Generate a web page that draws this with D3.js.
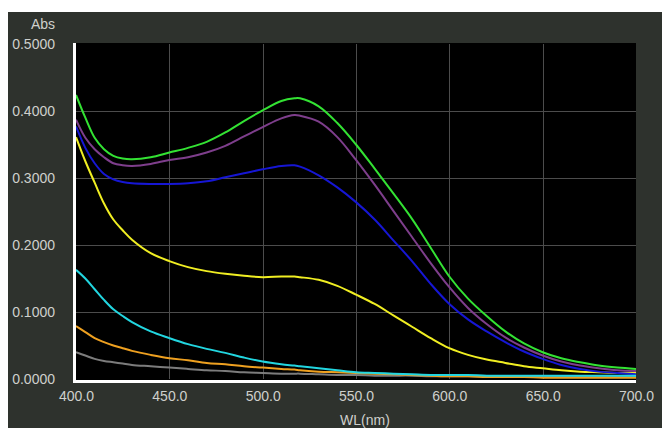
<!DOCTYPE html>
<html>
<head>
  <script src="https://d3js.org/d3.v7.min.js"></script>
  <meta charset="utf-8">
  <title>Abs spectrum</title>
<style>
body {
  margin: 0;
  background: #fff;
}
text {
  font-family: "Liberation Sans", Arial, sans-serif;
  font-size: 14px;
  fill: #cfd0cc;
}
</style>
</head>
<body>
<script>
var width = 662;
var height = 428;

// wavelengths (nm)
var wl = [400, 405, 410, 415, 420, 425, 430, 440, 450, 460, 470, 480, 490, 500, 510, 517, 520,
  530, 540, 550, 560, 570, 580, 590, 600, 610, 620, 630, 640, 650, 660, 670, 680, 690, 700];

var green = [0.424, 0.390, 0.360, 0.343, 0.333, 0.329, 0.328, 0.331, 0.338, 0.345, 0.354, 0.368, 0.385, 0.401, 0.415, 0.419, 0.419,
  0.407, 0.382, 0.350, 0.314, 0.277, 0.239, 0.196, 0.153, 0.120, 0.094, 0.071, 0.053, 0.040, 0.031, 0.025, 0.020, 0.017, 0.015];
var purple = [0.387, 0.360, 0.343, 0.331, 0.322, 0.319, 0.318, 0.321, 0.327, 0.331, 0.338, 0.348, 0.362, 0.376, 0.389, 0.394, 0.393,
  0.384, 0.361, 0.327, 0.290, 0.251, 0.212, 0.173, 0.137, 0.106, 0.082, 0.062, 0.047, 0.035, 0.026, 0.020, 0.016, 0.013, 0.012];
var blue = [0.377, 0.345, 0.322, 0.306, 0.298, 0.294, 0.292, 0.291, 0.291, 0.292, 0.295, 0.301, 0.307, 0.313, 0.318, 0.319, 0.317,
  0.304, 0.286, 0.264, 0.238, 0.207, 0.176, 0.142, 0.112, 0.089, 0.071, 0.055, 0.041, 0.030, 0.021, 0.015, 0.011, 0.009, 0.007];
var yellow = [0.361, 0.325, 0.293, 0.262, 0.238, 0.222, 0.208, 0.188, 0.176, 0.167, 0.161, 0.157, 0.154, 0.152, 0.153, 0.153, 0.152,
  0.148, 0.139, 0.126, 0.112, 0.095, 0.078, 0.061, 0.046, 0.036, 0.029, 0.024, 0.019, 0.016, 0.013, 0.011, 0.010, 0.009, 0.009];
var cyan = [0.163, 0.150, 0.134, 0.118, 0.104, 0.094, 0.085, 0.071, 0.061, 0.052, 0.045, 0.039, 0.032, 0.026, 0.022, 0.020, 0.019,
  0.016, 0.013, 0.010, 0.009, 0.008, 0.007, 0.006, 0.006, 0.006, 0.005, 0.005, 0.005, 0.005, 0.005, 0.005, 0.005, 0.005, 0.005];
var orange = [0.079, 0.070, 0.061, 0.055, 0.050, 0.046, 0.042, 0.036, 0.031, 0.028, 0.024, 0.022, 0.019, 0.017, 0.015, 0.014, 0.013,
  0.011, 0.010, 0.009, 0.008, 0.007, 0.006, 0.005, 0.004, 0.004, 0.003, 0.003, 0.003, 0.002, 0.002, 0.002, 0.002, 0.002, 0.002];
var grey = [0.040, 0.035, 0.030, 0.027, 0.025, 0.023, 0.021, 0.019, 0.017, 0.015, 0.013, 0.012, 0.010, 0.009, 0.008, 0.008, 0.008,
  0.007, 0.006, 0.006, 0.005, 0.005, 0.005, 0.004, 0.004, 0.004, 0.004, 0.003, 0.003, 0.003, 0.003, 0.003, 0.003, 0.003, 0.003];

var xTicks = [400, 450, 500, 550, 600, 650, 700];
var yTicks = [0, 0.1, 0.2, 0.3, 0.4, 0.5];

var series = [
  {name: 'grey', color: '#7c7c7c', values: grey},
  {name: 'orange', color: '#eea020', values: orange},
  {name: 'yellow', color: '#f0ee22', values: yellow},
  {name: 'blue', color: '#1616d4', values: blue},
  {name: 'purple', color: '#7e3e8c', values: purple},
  {name: 'green', color: '#33e233', values: green},
  {name: 'cyan', color: '#22d6e0', values: cyan}
];

// plot box (avoid the name "top", it is window.top)
var plotL = 76, plotR = 636, plotT = 44, plotB = 379;

var svg = d3.select('body').append('svg')
  .attr('width', width)
  .attr('height', height)
  .style('display', 'block');

// dark panel
svg.append('rect')
  .attr('x', 8).attr('y', 12)
  .attr('width', width - 8).attr('height', height - 12)
  .attr('fill', '#2e322d');

var x = d3.scaleLinear().domain([400, 700]).range([plotL, plotR]);
var y = d3.scaleLinear().domain([0, 0.5]).range([plotB, plotT]);

svg.append('rect')
  .attr('x', plotL).attr('y', plotT - 1)
  .attr('width', plotR - plotL).attr('height', plotB - plotT + 2)
  .attr('fill', '#000');

// grid
svg.append('g').selectAll('line')
  .data(xTicks.slice(1, -1))
  .enter().append('line')
  .attr('x1', function (d) { return Math.round(x(d)) + 0.5; })
  .attr('x2', function (d) { return Math.round(x(d)) + 0.5; })
  .attr('y1', plotT).attr('y2', plotB)
  .style('stroke', '#4c4c4c');

svg.append('g').selectAll('line')
  .data(yTicks.slice(1, -1))
  .enter().append('line')
  .attr('y1', function (d) { return Math.round(y(d)) + 0.5; })
  .attr('y2', function (d) { return Math.round(y(d)) + 0.5; })
  .attr('x1', plotL).attr('x2', plotR)
  .style('stroke', '#4c4c4c');

svg.append('clipPath').attr('id', 'plot')
  .append('rect')
  .attr('x', plotL).attr('y', plotT)
  .attr('width', plotR - plotL).attr('height', plotB - plotT + 1);

var line = d3.line()
  .x(function (d, i) { return x(wl[i]); })
  .y(function (d) { return y(d); })
  .curve(d3.curveCatmullRom.alpha(0.5));

svg.append('g').attr('clip-path', 'url(#plot)')
  .selectAll('path')
  .data(series)
  .enter().append('path')
  .attr('d', function (s) { return line(s.values); })
  .style('fill', 'none')
  .style('stroke', function (s) { return s.color; })
  .style('stroke-width', 2);

// white axis lines
svg.append('line')
  .attr('x1', plotL - 1.5).attr('x2', plotL - 1.5)
  .attr('y1', plotT - 1).attr('y2', plotB + 4)
  .style('stroke', '#fff').style('stroke-width', 3);
svg.append('line')
  .attr('x1', plotL - 3).attr('x2', plotR)
  .attr('y1', plotB + 2.5).attr('y2', plotB + 2.5)
  .style('stroke', '#fff').style('stroke-width', 3);

// tick labels
var xAxis = d3.axisBottom(x).tickValues(xTicks).tickFormat(d3.format('.1f')).tickSize(0).tickPadding(10);
svg.append('g')
  .attr('transform', 'translate(0,' + (plotB + 2) + ')')
  .call(xAxis)
  .call(function (g) { g.select('.domain').remove(); })
  .selectAll('text')
  .attr('font-family', null).attr('font-size', null).attr('fill', null);

var yAxis = d3.axisLeft(y).tickValues(yTicks).tickFormat(d3.format('.4f')).tickSize(0).tickPadding(21);
svg.append('g')
  .attr('transform', 'translate(' + plotL + ',0)')
  .call(yAxis)
  .call(function (g) { g.select('.domain').remove(); })
  .selectAll('text')
  .attr('font-family', null).attr('font-size', null).attr('fill', null);

svg.append('text')
  .attr('x', 55).attr('y', 29)
  .attr('text-anchor', 'end')
  .text('Abs');

svg.append('text')
  .attr('x', 365).attr('y', 425)
  .attr('text-anchor', 'middle')
  .text('WL(nm)');
</script>
</body>
</html>
